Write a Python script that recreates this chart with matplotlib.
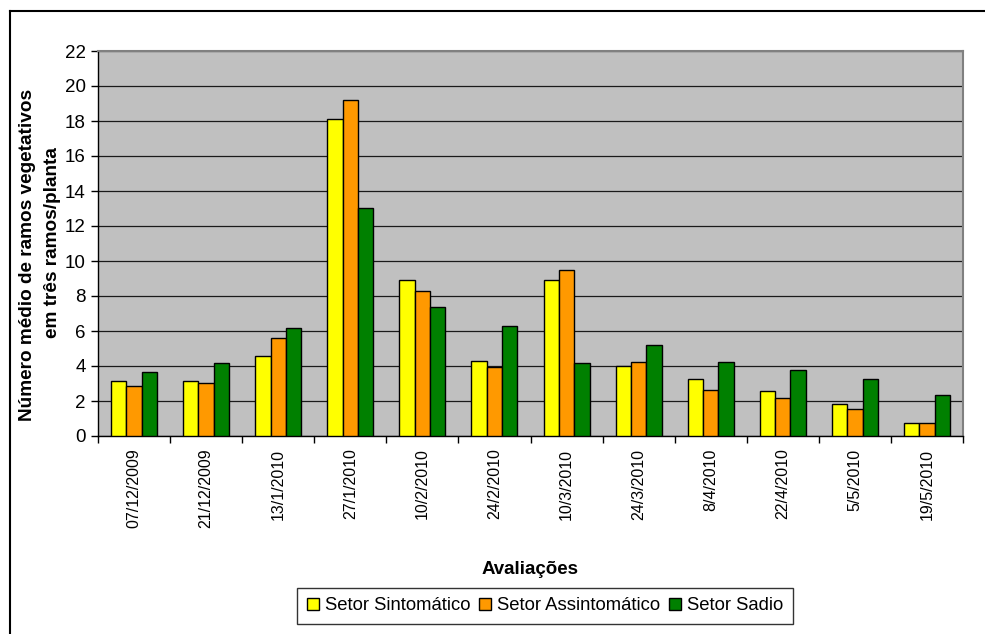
import numpy as np
import matplotlib
matplotlib.use('Agg')
from matplotlib import pyplot as plt
from matplotlib.lines import Line2D

plt.rcParams['font.family'] = ['Liberation Sans', 'DejaVu Sans']

datas = ['07/12/2009', '21/12/2009', '13/1/2010', '27/1/2010', '10/2/2010', '24/2/2010',
         '10/3/2010', '24/3/2010', '8/4/2010', '22/4/2010', '5/5/2010', '19/5/2010']

sintomatico = [3.15, 3.15, 4.6, 18.1, 8.9, 4.3, 8.9, 4.0, 3.25, 2.55, 1.85, 0.75]
assintomatico = [2.85, 3.05, 5.6, 19.2, 8.3, 3.95, 9.5, 4.25, 2.65, 2.15, 1.55, 0.75]
sadio = [3.65, 4.15, 6.2, 13.05, 7.4, 6.3, 4.15, 5.2, 4.25, 3.75, 3.25, 2.35]

series = [('Setor Sintomático', sintomatico, '#FFFF00'),
          ('Setor Assintomático', assintomatico, '#FF9900'),
          ('Setor Sadio', sadio, '#008000')]

W, H = 985, 634
fig = plt.figure(figsize=(W / 100, H / 100), dpi=100)
ax = fig.add_axes([98 / W, 1 - 436 / H, 865 / W, 385 / H])
ax.set_facecolor('#C0C0C0')

x = np.arange(len(datas))
w = 0.213
for i, (nome, vals, cor) in enumerate(series):
    ax.bar(x + (i - 1) * w, vals, w, color=cor, edgecolor='black', linewidth=1.0, zorder=3)

ax.set_xlim(-0.5, len(datas) - 0.5)
ax.set_ylim(0, 22)
ax.set_yticks(range(0, 23, 2))
ax.yaxis.grid(True, color='#1a1a1a', linewidth=0.9, zorder=1)
ax.set_axisbelow(True)

# ticks between categories, labels at category centers
ax.set_xticks(np.arange(-0.5, len(datas), 1))
ax.set_xticklabels([])
ax.set_xticks(x, minor=True)
ax.set_xticklabels(datas, minor=True, rotation=90, fontsize=11.5)
ax.tick_params(axis='x', which='minor', length=0, pad=9)
ax.tick_params(axis='x', which='major', direction='out', length=5, width=1)
ax.tick_params(axis='y', direction='out', length=5, width=1, labelsize=13.5, pad=4)

for s in ['top', 'right']:
    ax.spines[s].set_color('#808080')
    ax.spines[s].set_linewidth(1.5)
for s in ['left', 'bottom']:
    ax.spines[s].set_color('black')
    ax.spines[s].set_linewidth(1.0)

fig.text(28 / W, 1 - 255 / H, 'Número médio de ramos vegetativos',
         rotation=90, ha='center', va='center', fontsize=13.7, fontweight='bold')
fig.text(53 / W, 1 - 243 / H, 'em três ramos/planta',
         rotation=90, ha='center', va='center', fontsize=13.7, fontweight='bold')
fig.text(530 / W, 1 - 570 / H, 'Avaliações', ha='center', va='center',
         fontsize=13.5, fontweight='bold')

handles = [Line2D([], [], marker='s', linestyle='none', markersize=8.5,
                  markerfacecolor=c, markeredgecolor='black', markeredgewidth=1.0)
           for _, _, c in series]
leg = fig.legend(handles, [n for n, _, _ in series], loc='center',
                 bbox_to_anchor=(545 / W, 1 - 606 / H), ncol=3, fontsize=13.3,
                 frameon=True, fancybox=False, handlelength=0.7, handletextpad=0.3,
                 columnspacing=0.45, borderpad=0.5, borderaxespad=0)
leg.get_frame().set_edgecolor('black')
leg.get_frame().set_linewidth(1.0)

# outer border of the chart area
fig.add_artist(Line2D([10 / W, 10 / W], [0, 1 - 11 / H], transform=fig.transFigure,
                      color='black', linewidth=1.5))
fig.add_artist(Line2D([10 / W, 1], [1 - 11 / H, 1 - 11 / H], transform=fig.transFigure,
                      color='black', linewidth=1.5))

fig.savefig('out.png', dpi=100)
